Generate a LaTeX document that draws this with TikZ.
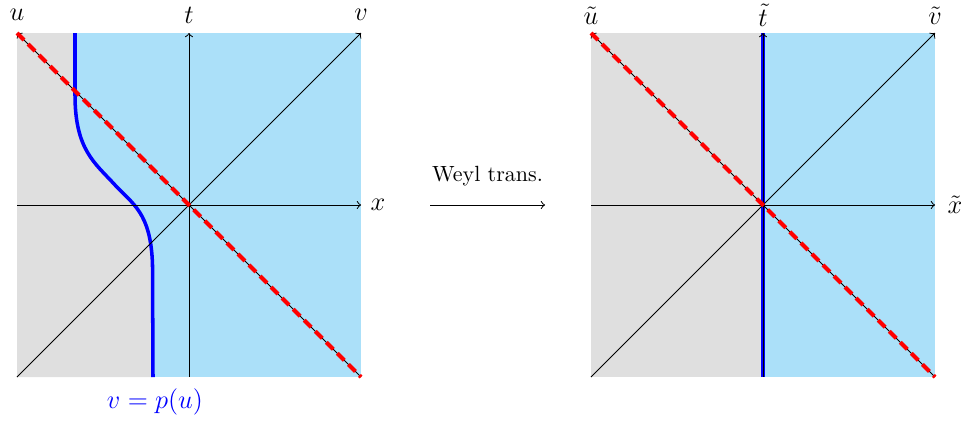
\documentclass[tikz,border=0pt]{standalone}
\definecolor{skyb}{RGB}{171,224,249}
\definecolor{lgray}{RGB}{223,223,223}
\begin{document}
\begin{tikzpicture}[x=0.4545pt,y=-0.4545pt,
  axis/.style={->,black,line width=0.45pt},
  nulldash/.style={red,line width=1.8pt,dash pattern=on 4.5pt off 2.6pt},
  worldline/.style={blue,line width=1.6pt},
  lab/.style={font=\large,inner sep=0pt}]
\useasboundingbox (0,0) rectangle (961,424);
\def\curvepath{(75,33) -- (75,95) .. controls (75,150) and (95,163) .. (115,185) .. controls (132,203.7) and (151,212) .. (152.5,265) -- (153,377)}
% ---------------- left diagram ----------------
\coordinate (LTL) at (17,33);
\coordinate (LTR) at (361,33);
\coordinate (LBL) at (17,377);
\coordinate (LBR) at (361,377);
\coordinate (LO) at (189,205);
\coordinate (LT) at (189,33);
\coordinate (LB) at (189,377);
\coordinate (LL) at (17,205);
\coordinate (LR) at (361,205);
\fill[skyb] (LTL) rectangle (LBR);
\fill[lgray] (LTL) -- \curvepath -- (LBL) -- cycle;
\draw[worldline] \curvepath;
\draw[axis] (LL) -- (LR);
\draw[axis] (LB) -- (LT);
\draw[axis] (LBL) -- (LTR);
\draw[axis] (LBR) -- (LTL);
\draw[nulldash] (LTL) -- (LBR);
\node[lab] (lu) at (17,15) {$u$};
\node[lab] (lt) at (189,15) {$t$};
\node[lab] (lv) at (361,15) {$v$};
\node[lab] (lx) at (378,205) {$x$};
\node[lab,text=blue] (lp) at (155,402) {$v=p(u)$};
% ---------------- arrow ----------------
\coordinate (WA) at (430,205);
\coordinate (WB) at (545,205);
\draw[axis] (WA) -- node[above=5pt,font=\normalsize] (wl) {Weyl trans.} (WB);
% ---------------- right diagram ----------------
\coordinate (RTL) at (591,33);
\coordinate (RTR) at (935,33);
\coordinate (RBL) at (591,377);
\coordinate (RBR) at (935,377);
\coordinate (RO) at (763,205);
\coordinate (RT) at (763,33);
\coordinate (RB) at (763,377);
\coordinate (RL) at (591,205);
\coordinate (RR) at (935,205);
\fill[lgray] (RTL) rectangle (RB);
\fill[skyb] (RT) rectangle (RBR);
\draw[worldline] (RB) -- (RT);
\draw[axis] (RL) -- (RR);
\draw[axis] (RB) -- (RT);
\draw[axis] (RBL) -- (RTR);
\draw[axis] (RBR) -- (RTL);
\draw[nulldash] (RTL) -- (RBR);
\node[lab] (ru) at (591,16) {$\tilde u$};
\node[lab] (rt) at (763,15) {$\tilde t$};
\node[lab] (rv) at (935,16) {$\tilde v$};
\node[lab] (rx) at (955,205) {$\tilde x$};
\end{tikzpicture}
\end{document}
